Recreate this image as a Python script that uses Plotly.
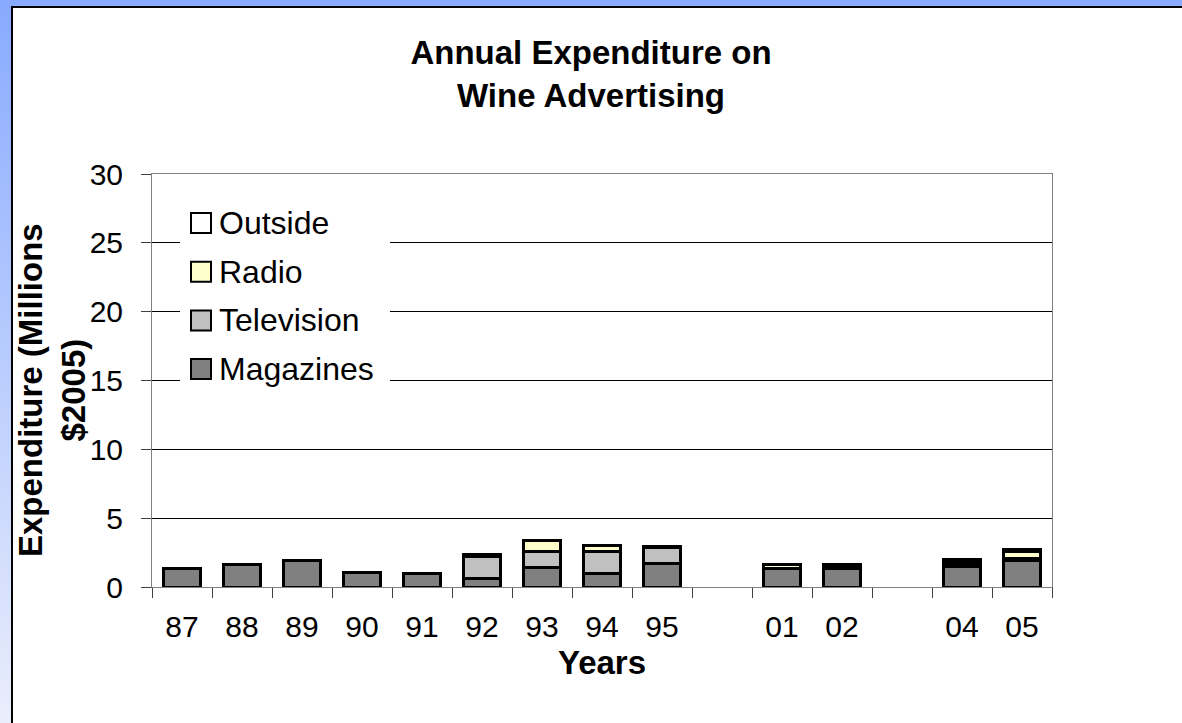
import base64
import plotly.graph_objects as go

# ---- data (millions of 2005 dollars) ----
slots = ["87", "88", "89", "90", "91", "92", "93", "94", "95",
         "96-00", "01", "02", "03", "04", "05"]
tick_labels = ["87", "88", "89", "90", "91", "92", "93", "94", "95",
               "", "01", "02", "", "04", "05"]

magazines = [1.31, 1.63, 1.95, 1.02, 0.95, 0.65, 1.39, 0.98, 1.71,
             None, 1.31, 1.31, None, 1.49, 1.90]
television = [0, 0, 0, 0, 0, 1.55, 1.19, 1.60, 1.16,
              None, 0.07, 0.12, None, 0.20, 0.17]
radio = [0, 0, 0, 0, 0, 0, 0.82, 0.45, 0,
         None, 0.29, 0.05, None, 0.15, 0.51]
outside = [0, 0, 0, 0, 0, 0.15, 0, 0, 0.08,
           None, 0, 0.17, None, 0.16, 0.15]

series_names = ["Magazines", "Television", "Radio", "Outside"]
series_values = [magazines, television, radio, outside]
series_colors = ["#808080", "#c0c0c0", "#ffffcc", "#ffffff"]

# ---- geometry of the figure (pixels) ----
W, H = 1182, 723
PL, PR, PT, PB = 152, 1052, 174, 587  # plot area edges
FONT = "Liberation Sans, Arial, sans-serif"


def px_x(px):
    return (px - PL) / (PR - PL)


def px_y(py):
    return (PB - py) / (PB - PT)


fig = go.Figure()
for name, vals, col in zip(series_names, series_values, series_colors):
    fig.add_trace(go.Bar(
        name=name, x=slots, y=vals,
        marker=dict(color=col, line=dict(color="black", width=3)),
        showlegend=False,
    ))

# background: blue gradient frame with a white panel outlined in black
svg = f"""<svg xmlns='http://www.w3.org/2000/svg' width='{W}' height='{H}'>
<defs><linearGradient id='g' x1='0' y1='0' x2='0' y2='1'>
<stop offset='0' stop-color='#88aaff'/><stop offset='1' stop-color='#eaeefc'/>
</linearGradient></defs>
<rect x='0' y='0' width='{W}' height='{H}' fill='url(#g)'/>
<rect x='12' y='7' width='{W}' height='{H}' fill='white' stroke='black' stroke-width='2'/>
</svg>"""
src = "data:image/svg+xml;base64," + base64.b64encode(svg.encode()).decode()
fig.add_layout_image(dict(
    source=src, xref="paper", yref="paper",
    x=px_x(0), y=px_y(0), sizex=px_x(W) - px_x(0), sizey=px_y(0) - px_y(H),
    xanchor="left", yanchor="top", sizing="stretch", layer="below",
))

# legend panel drawn over the gridlines
shapes = [dict(type="rect", xref="paper", yref="paper",
               x0=px_x(180), x1=px_x(390), y0=px_y(395), y1=px_y(198),
               fillcolor="white", line=dict(width=0), layer="above")]
annotations = []
legend_order = list(zip(series_names, series_colors))[::-1]
for i, (name, col) in enumerate(legend_order):
    cy = 223 + i * 48.7
    shapes.append(dict(type="rect", xref="paper", yref="paper",
                       x0=px_x(191), x1=px_x(211), y0=px_y(cy + 10), y1=px_y(cy - 10),
                       fillcolor=col, line=dict(color="black", width=2), layer="above"))
    annotations.append(dict(text=name, xref="paper", yref="paper",
                            x=px_x(217), y=px_y(cy), xanchor="left", yanchor="middle",
                            showarrow=False, font=dict(family=FONT, size=32, color="black")))

annotations.append(dict(
    text="<b>Expenditure (Millions<br>$2005)</b>", textangle=-90,
    xref="paper", yref="paper", x=px_x(52), y=px_y(390),
    xanchor="center", yanchor="middle", showarrow=False,
    font=dict(family=FONT, size=33, color="black"),
))

fig.update_layout(
    width=W, height=H, autosize=False,
    margin=dict(l=PL, r=W - PR, t=PT, b=H - PB, pad=0),
    paper_bgcolor="white", plot_bgcolor="rgba(0,0,0,0)",
    barmode="stack", bargap=0.38,
    title=dict(text="<b>Annual Expenditure on<br>Wine Advertising</b>",
               x=0.5, xref="container", xanchor="center",
               y=1 - 64 / H, yref="container", yanchor="middle",
               font=dict(family=FONT, size=33, color="black")),
    shapes=shapes, annotations=annotations,
    font=dict(family=FONT, color="black"),
)
fig.update_yaxes(
    range=[0, 30], dtick=5, showgrid=True, gridcolor="black", gridwidth=1,
    zeroline=False, showline=True, linecolor="#808080", linewidth=1, mirror=True,
    ticks="outside", ticklen=10, tickcolor="#404040", ticklabelstandoff=12,
    tickfont=dict(family=FONT, size=30, color="black"),
)
fig.update_xaxes(
    type="category", categoryorder="array", categoryarray=slots,
    range=[-0.5, len(slots) - 0.5], tickmode="array", tickvals=slots, ticktext=tick_labels,
    tickson="boundaries", ticks="outside", ticklen=10, tickcolor="#404040",
    showgrid=False, zeroline=False, showline=True, linecolor="#808080", linewidth=1,
    mirror=True, ticklabelstandoff=13,
    tickfont=dict(family=FONT, size=30, color="black"),
    title=dict(text="<b>Years</b>", standoff=8,
               font=dict(family=FONT, size=33, color="black")),
)

fig.write_html("out.html")
